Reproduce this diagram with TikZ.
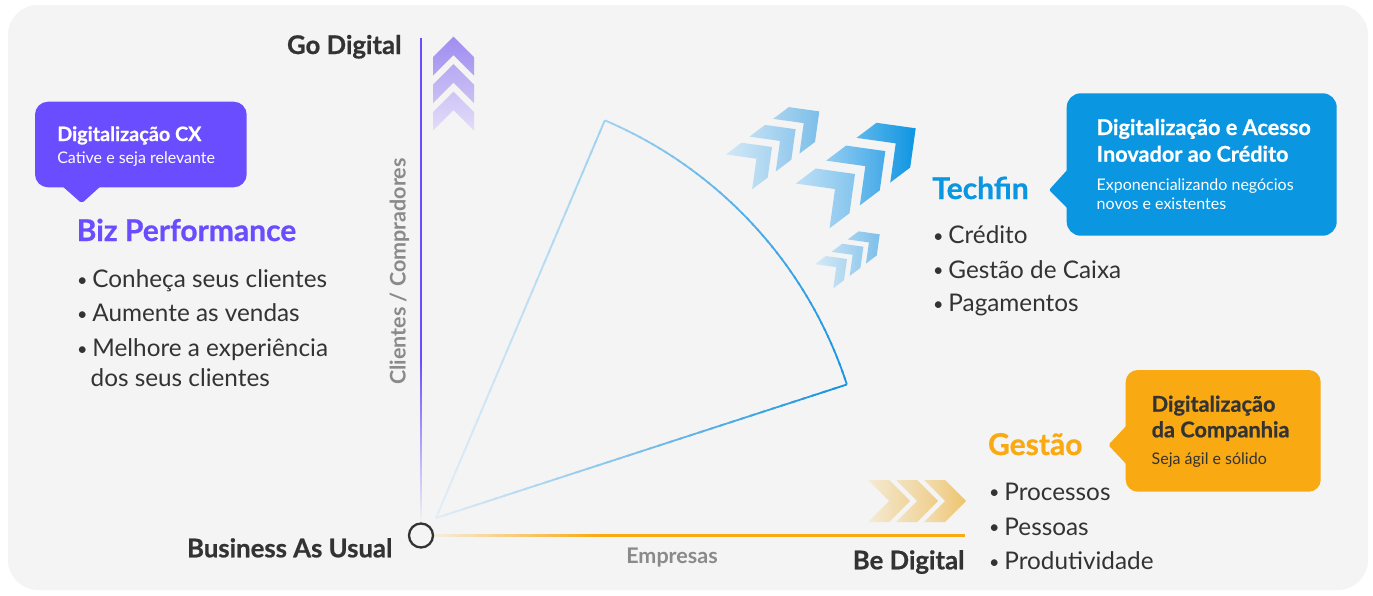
\documentclass[tikz,border=0pt]{standalone}
\usepackage{fontspec}
\setmainfont{Lato}
\newfontfamily\hvyfam{Lato}[BoldFeatures={FakeBold=0.7}]
\newcommand\hvy{\hvyfam\bfseries}
\usetikzlibrary{calc}
\definecolor{bgc}{HTML}{F4F4F4}
\definecolor{ink}{HTML}{333333}
\definecolor{grayt}{HTML}{8A8A8A}
\definecolor{purp}{HTML}{6A4DFF}
\definecolor{bluec}{HTML}{0A96E1}
\definecolor{orangec}{HTML}{F9A912}
\definecolor{skyL}{HTML}{9FD2F1}
\definecolor{skyM}{HTML}{4AAAE8}
\definecolor{skyF}{HTML}{E4EEF6}
\definecolor{skyD}{HTML}{1492E0}
% chevron: x, y (tip), rotation, h, t, light, dark
\newcommand\chev[7]{%
  \definecolor{chA}{HTML}{#6}\definecolor{chB}{HTML}{#7}%
  \shade[shift={(#1,#2)}, rotate=#3, left color=chA, right color=chB]
   (0,0) -- (-#4,#4) -- ({-#4-#5},#4) -- (-#5,0) -- ({-#4-#5},-#4) -- (-#4,-#4) -- cycle;}
% upward chevron: y of tip, top colour, bottom colour
\newcommand\upchev[3]{%
  \definecolor{chA}{HTML}{#2}\definecolor{chB}{HTML}{#3}%
  \shade[top color=chA, bottom color=chB]
   (453.5,#1) -- (474,#1+20.5) -- (474,#1+39) -- (453.5,#1+18.5) -- (433,#1+39) -- (433,#1+20.5) -- cycle;}
\newcommand\bdot{{\fontsize{18}{18}\selectfont\raisebox{1.2pt}{•}}\hspace{5pt}}
\tikzset{
 lbl/.style={inner sep=0, outer sep=0},
 bigdark/.style={lbl, text=ink, font=\fontsize{25.7}{30}\selectfont\hvy},
 ttl/.style={lbl, anchor=base west, font=\fontsize{30}{34}\selectfont\hvy},
 bul/.style={lbl, anchor=base west, text=ink, font=\fontsize{24.3}{28}\selectfont},
 cth/.style={lbl, anchor=base west, font=\fontsize{21.7}{24}\selectfont\hvy},
 csub/.style={lbl, anchor=base west, font=\fontsize{16}{18}\selectfont},
 axl/.style={lbl, text=grayt, font=\fontsize{21.5}{24}\selectfont\bfseries},
 sect/.style={line width=1.8pt},
}
\begin{document}
\begin{tikzpicture}[x=1pt,y=-1pt]
\useasboundingbox (0,0) rectangle (1373,595);
\fill[white] (0,0) rectangle (1373,595);
\fill[bgc, rounded corners=30pt] (8,5) rectangle (1368,590);

% ---------- axes ----------
\fill[purp] (419.8,38.3) rectangle (422.3,361);
\foreach \i in {0,...,39}{
  \pgfmathsetmacro\ya{360+\i*4.05}
  \pgfmathtruncatemacro\pp{100-\i*2.5}
  \fill[purp!\pp!bgc] (419.8,\ya) rectangle (422.3,\ya+4.6);
}
\foreach \i in {0,...,39}{
  \pgfmathsetmacro\xa{433+\i*4.2}
  \pgfmathtruncatemacro\pp{10+\i*2.3}
  \fill[orangec!\pp!bgc] (\xa,534.3) rectangle (\xa+4.7,536.8);
}
\fill[orangec] (600,534.3) rectangle (965,536.8);
\node[circle, draw=ink, line width=2.3pt, minimum size=24pt, inner sep=0] (bau) at (421,535.5) {};

% ---------- sector ----------
\coordinate (A) at (436,518);
\coordinate (T) at ($(A)+(-67:432)$);
\coordinate (R) at ($(A)+(-18:432)$);
\foreach \i in {0,...,39}{
  \pgfmathsetmacro\fa{\i/40}
  \pgfmathsetmacro\fb{min((\i+1.4)/40,1)}
  \pgfmathtruncatemacro\pp{100-\i*2.5}
  \draw[sect, draw=skyL!\pp!skyF] ($(T)!\fa!(A)$) -- ($(T)!\fb!(A)$);
  \draw[sect, draw=skyD!\pp!skyF] ($(R)!\fa!(A)$) -- ($(R)!\fb!(A)$);
}
\foreach \i in {0,...,48}{
  \pgfmathsetmacro\aa{-67+\i}
  \pgfmathsetmacro\ab{min(-67+\i+1.3,-18)}
  \pgfmathtruncatemacro\pp{100-\i*4}
  \pgfmathtruncatemacro\qq{200-\i*4}
  \ifnum\i<25
    \draw[sect, draw=skyL!\pp!skyM] ($(A)+(\aa:432)$) arc[start angle=\aa, end angle=\ab, radius=432];
  \else
    \draw[sect, draw=skyM!\qq!skyD] ($(A)+(\aa:432)$) arc[start angle=\aa, end angle=\ab, radius=432];
  \fi
}

% ---------- chevrons ----------
\upchev{36.7}{A08EF0}{B3A5F2}
\upchev{64.2}{B8AAF2}{CABFF5}
\upchev{91.7}{CEC4F6}{E2DCF8}

\chev{910}{501}{0}{21}{21}{F5EBD8}{F0D59C}
\chev{938}{501}{0}{21}{21}{F3E3C3}{EFCD88}
\chev{966}{501}{0}{21}{21}{F2DDB3}{EEC46C}

\chev{772}{147}{37}{21.8}{19.5}{D3E8F6}{AAD5F0}
\chev{795.6}{129.2}{37}{21.8}{19.5}{BEDEF3}{94C9EE}
\chev{819.3}{111.4}{37}{21.8}{19.5}{A9D3F0}{7CBEE8}

\chev{855}{174}{37}{28}{25}{BEDFF5}{84C5EE}
\chev{885.3}{151.1}{37}{28}{25}{93CDF1}{45AAE8}
\chev{915.7}{128.3}{37}{28}{25}{5FB7EC}{0E95E2}

\chev{847}{259}{37}{15.1}{13.5}{D4E9F6}{B0D7F1}
\chev{863.4}{246.7}{37}{15.1}{13.5}{BCDDF3}{98CCEE}
\chev{879.7}{234.3}{37}{15.1}{13.5}{A5D2F0}{7EBFE9}

% ---------- callouts ----------
\fill[purp, rounded corners=13pt] (35,101.7) rectangle (246.7,187.3);
\fill[purp, rounded corners=2pt] (61,185) -- (81.7,203.3) -- (102,185) -- cycle;
\fill[bluec, rounded corners=14pt] (1066.7,93.3) rectangle (1336.7,235.7);
\fill[bluec, rounded corners=2pt] (1069,168) -- (1049,190) -- (1069,210) -- cycle;
\fill[orangec, rounded corners=12pt] (1125.7,370) rectangle (1320.7,491.7);
\fill[orangec, rounded corners=2pt] (1128,424) -- (1108.3,445) -- (1128,466) -- cycle;

\node[cth, text=white, font=\fontsize{19.8}{24}\selectfont\hvy] (cx1) at (57.3,141) {Digitalização CX};
\node[csub, text=white] (cx2) at (57.3,163) {Cative e seja relevante};

\node[cth, text=white] (tf1) at (1096.7,135) {Digitalização e Acesso};
\node[cth, text=white] (tf2) at (1096.7,161.7) {Inovador ao Crédito};
\node[csub, text=white] (tf3) at (1096.7,190.7) {Exponencializando negócios};
\node[csub, text=white] (tf4) at (1096.7,209.3) {novos e existentes};

\node[cth, text=ink] (gc1) at (1151.7,411.7) {Digitalização};
\node[cth, text=ink] (gc2) at (1151.7,437.3) {da Companhia};
\node[csub, text=ink] (gc3) at (1151.7,464.5) {Seja ágil e sólido};

% ---------- titles and bullets ----------
\node[ttl, text=purp] (biz) at (76.7,241) {Biz Performance};
\node[bul] (b1) at (77,287.7) {\bdot Conheça seus clientes};
\node[bul] (b2) at (77,321.7) {\bdot Aumente as vendas};
\node[bul] (b3) at (77,356.7) {\bdot Melhore a experiência};
\node[bul] (b4) at (90.7,386) {dos seus clientes};

\node[ttl, text=bluec] (tech) at (932.3,199) {Techfin};
\node[bul] (t1) at (933,243.3) {\bdot Crédito};
\node[bul] (t2) at (933,278) {\bdot Gestão de Caixa};
\node[bul] (t3) at (933,311.7) {\bdot Pagamentos};

\node[ttl, text=orangec] (gest) at (988,455) {Gestão};
\node[bul] (g1) at (989,500) {\bdot Processos};
\node[bul] (g2) at (989,535) {\bdot Pessoas};
\node[bul] (g3) at (989,569.3) {\bdot Produtividade};

% ---------- axis labels ----------
\node[bigdark, anchor=base east] (go) at (401.5,54) {Go Digital};
\node[bigdark, anchor=base east] (busu) at (392.3,557.3) {Business As Usual};
\node[bigdark, anchor=base east] (be) at (964.5,569.3) {Be Digital};
\node[axl, anchor=base] (emp) at (672,563) {Empresas};
\node[axl, anchor=base, rotate=90] (cli) at (405.5,271.5) {Clientes / Compradores};
\end{tikzpicture}
\end{document}
